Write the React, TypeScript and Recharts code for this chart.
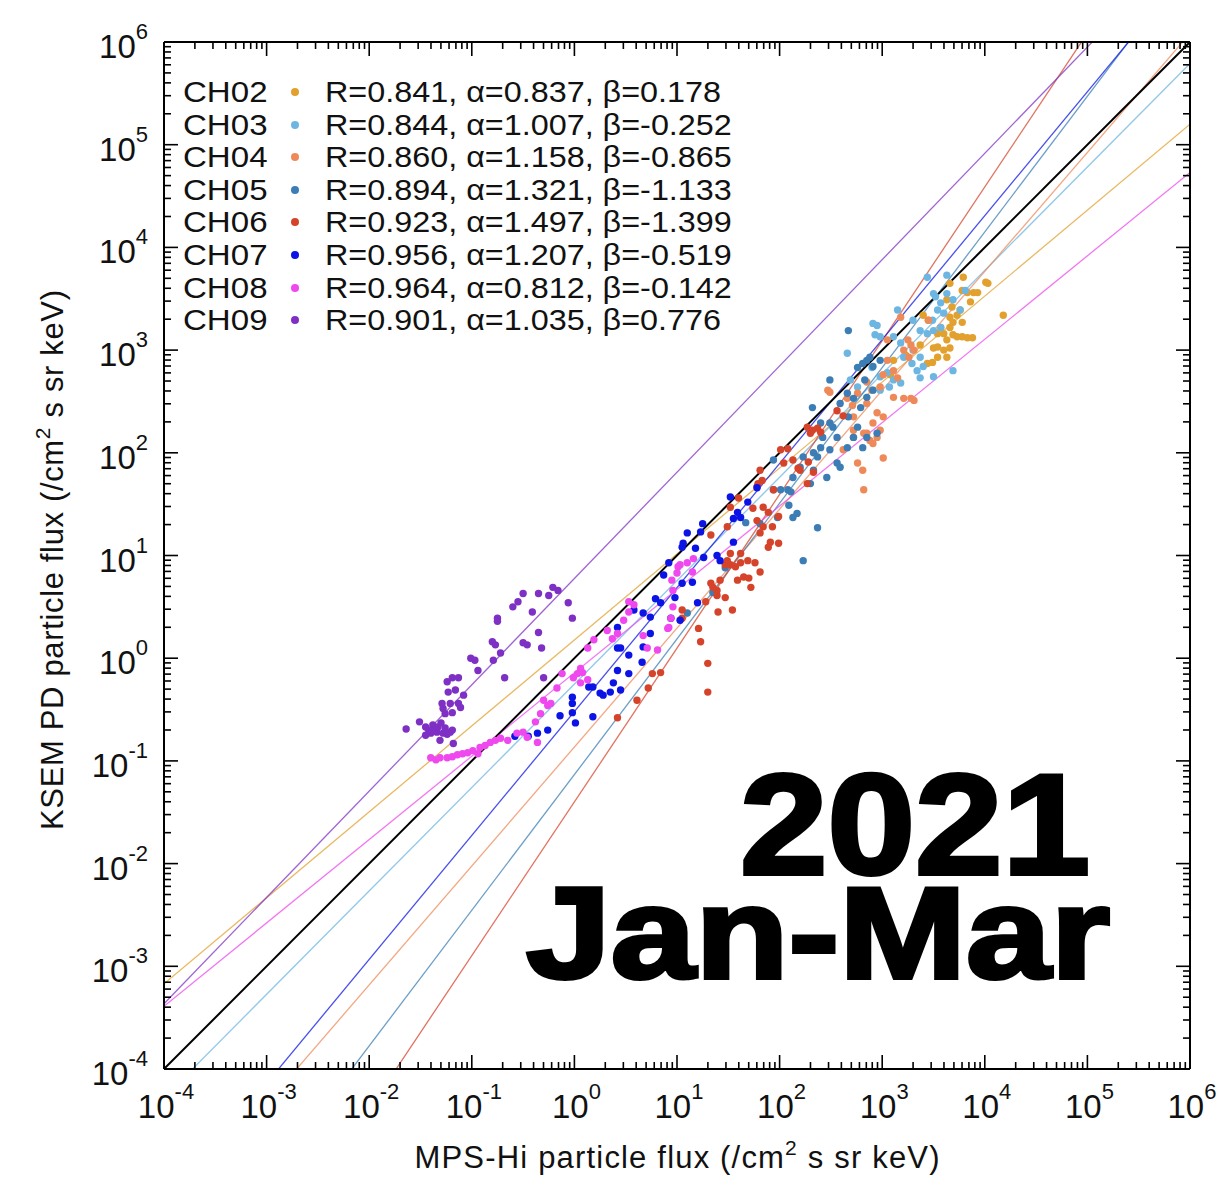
import { ScatterChart, Scatter, XAxis, YAxis, ReferenceLine, Legend } from "recharts";

const CHANNELS = ["CH02", "CH03", "CH04", "CH05", "CH06", "CH07", "CH08", "CH09"];
const COLORS = ["#E2A02E", "#6DB6E2", "#EE8A5A", "#3B7DB4", "#D5442A", "#0B14E4", "#EE48EE", "#7F30C4"];
const R_VALUES = [0.841, 0.844, 0.86, 0.894, 0.923, 0.956, 0.964, 0.901];
const ALPHAS = [0.837, 1.007, 1.158, 1.321, 1.497, 1.207, 0.812, 1.035];
const BETAS = [0.178, -0.252, -0.865, -1.133, -1.399, -0.519, -0.142, 0.776];

// points are [log10 MPS-Hi flux, log10 KSEM PD flux]
const CH02_PTS = [
  [3.08, 2.76], [3.11, 2.9], [3.23, 2.95], [3.37, 3.05], [3.4, 3.34], [3.44, 2.87], [3.45, 3.29], [3.49, 2.88],
  [3.5, 3.02], [3.54, 3.16], [3.54, 3.03], [3.54, 2.93], [3.57, 3.22], [3.6, 3.16], [3.6, 3.0], [3.63, 3.49],
  [3.63, 3.1], [3.63, 2.93], [3.66, 3.65], [3.66, 3.32], [3.66, 3.22], [3.66, 3.02], [3.68, 3.42], [3.69, 3.27],
  [3.69, 3.15], [3.73, 3.34], [3.73, 3.13], [3.76, 3.39], [3.78, 3.58], [3.78, 3.27], [3.78, 3.13], [3.79, 3.71],
  [3.83, 3.56], [3.83, 3.12], [3.86, 3.47], [3.88, 3.12], [3.89, 3.56], [3.93, 3.56], [4.01, 3.66], [4.03, 3.65],
  [4.18, 3.34],
];
const CH03_PTS = [
  [2.66, 2.97], [2.69, 2.71], [2.76, 2.64], [2.9, 2.83], [2.91, 3.26], [2.93, 3.15], [2.95, 3.24], [2.98, 3.13],
  [2.98, 2.74], [2.98, 2.61], [3.05, 2.78], [3.07, 2.64], [3.11, 3.13], [3.11, 2.71], [3.15, 3.39], [3.18, 3.07],
  [3.18, 2.68], [3.21, 2.93], [3.29, 2.87], [3.3, 3.29], [3.3, 3.0], [3.34, 2.8], [3.37, 3.19], [3.37, 2.93],
  [3.37, 2.73], [3.4, 2.84], [3.44, 3.71], [3.44, 3.16], [3.49, 3.29], [3.5, 3.55], [3.5, 3.19], [3.5, 2.74],
  [3.52, 3.52], [3.54, 3.39], [3.57, 3.46], [3.57, 3.22], [3.6, 3.36], [3.63, 3.73], [3.63, 3.55], [3.69, 3.49],
  [3.69, 2.8], [3.76, 3.39], [3.81, 3.58],
];
const CH04_PTS = [
  [2.47, 2.61], [2.49, 2.59], [2.62, 2.03], [2.66, 2.53], [2.71, 2.46], [2.72, 2.35], [2.72, 2.22], [2.72, 2.15],
  [2.76, 2.58], [2.76, 1.9], [2.81, 1.83], [2.82, 2.19], [2.82, 1.64], [2.85, 2.69], [2.85, 2.48], [2.85, 2.19],
  [2.88, 2.12], [2.9, 2.61], [2.91, 2.29], [2.91, 2.09], [2.95, 2.39], [2.95, 2.15], [2.98, 2.64], [2.98, 2.22],
  [3.01, 2.76], [3.01, 2.35], [3.01, 1.95], [3.05, 3.1], [3.05, 2.9], [3.11, 2.8], [3.11, 2.54], [3.15, 2.73],
  [3.18, 3.32], [3.21, 3.0], [3.21, 2.53], [3.25, 3.1], [3.26, 2.93], [3.28, 3.05], [3.28, 2.53], [3.31, 3.0],
  [3.31, 2.51], [3.45, 3.29],
];
const CH05_PTS = [
  [1.1, 0.44], [1.35, 0.64], [1.47, 0.88], [1.67, 1.32], [1.81, 1.31], [1.94, 1.93], [1.94, 1.64], [1.98, 1.37],
  [2.01, 1.64], [2.08, 1.64], [2.09, 1.49], [2.11, 1.62], [2.13, 1.76], [2.13, 1.37], [2.17, 1.41], [2.2, 1.86],
  [2.23, 1.96], [2.23, 0.95], [2.3, 1.7], [2.32, 2.44], [2.33, 2.0], [2.33, 1.83], [2.37, 1.96], [2.37, 1.27],
  [2.4, 2.29], [2.4, 2.05], [2.42, 2.15], [2.46, 1.76], [2.49, 2.71], [2.49, 2.29], [2.49, 2.03], [2.52, 2.25],
  [2.56, 2.15], [2.56, 1.9], [2.59, 2.48], [2.59, 1.86], [2.66, 2.58], [2.66, 2.05], [2.67, 2.35], [2.72, 2.53],
  [2.72, 2.15], [2.76, 2.83], [2.76, 2.25], [2.79, 2.44], [2.81, 2.87], [2.81, 2.05], [2.85, 2.9], [2.85, 2.54],
  [2.85, 2.15], [2.88, 2.93], [2.91, 2.84], [2.91, 2.61], [2.95, 2.19], [2.98, 2.9], [2.83, 2.71], [2.67, 3.19],
];
const CH06_PTS = [
  [0.42, -0.58], [0.61, -0.41], [0.72, -0.29], [0.76, -0.15], [0.84, -0.14], [1.05, 0.47], [1.05, 0.39], [1.21, 0.29],
  [1.23, 0.16], [1.3, -0.05], [1.3, -0.33], [1.28, 0.55], [1.33, 1.2], [1.33, 0.73], [1.35, 0.69], [1.39, 0.66],
  [1.39, 0.61], [1.4, 0.45], [1.42, 0.76], [1.47, 0.91], [1.47, 0.59], [1.49, 1.28], [1.49, 0.95], [1.52, 1.47],
  [1.52, 1.02], [1.52, 0.91], [1.54, 0.47], [1.57, 0.89], [1.59, 0.76], [1.6, 1.56], [1.62, 1.02], [1.62, 0.93],
  [1.65, 0.79], [1.69, 0.95], [1.7, 0.78], [1.72, 0.69], [1.74, 1.46], [1.76, 0.93], [1.78, 1.67], [1.78, 1.34],
  [1.79, 1.7], [1.81, 1.83], [1.81, 1.22], [1.81, 0.84], [1.83, 1.73], [1.84, 1.47], [1.84, 1.28], [1.89, 1.42],
  [1.89, 1.08], [1.91, 1.13], [1.93, 1.28], [1.94, 1.64], [1.99, 1.38], [1.99, 1.12], [2.01, 2.03], [2.04, 1.9],
  [2.08, 2.04], [2.13, 1.93], [2.18, 1.85], [2.2, 1.83], [2.27, 2.25], [2.27, 1.7], [2.28, 1.91], [2.3, 2.19],
  [2.32, 2.22], [2.33, 1.81], [2.37, 2.24], [2.4, 2.2], [2.56, 2.41], [2.62, 2.36],
];
const CH07_PTS = [
  [-0.58, -0.76], [-0.45, -0.76], [-0.36, -0.73], [-0.26, -0.7], [-0.14, -0.56], [-0.02, -0.38], [-0.02, -0.44],
  [-0.02, -0.53], [0.01, -0.63], [0.14, -0.28], [0.18, -0.28], [0.25, -0.34], [0.35, -0.33], [0.38, -0.24],
  [0.18, -0.57], [0.28, -0.36], [0.42, -0.12], [0.42, 0.1], [0.42, 0.3], [0.45, -0.31], [0.45, 0.1], [0.53, 0.03],
  [0.53, -0.15], [0.58, 0.47], [0.66, -0.04], [0.67, 0.44], [0.67, 0.11], [0.74, 0.4], [0.74, 0.24], [0.79, 0.58],
  [0.84, 0.54], [0.87, 0.81], [0.92, 0.93], [0.94, 0.39], [0.98, 0.59], [1.03, 0.37], [1.05, 0.73], [1.05, 1.08],
  [1.06, 1.12], [1.1, 1.22], [1.15, 0.74], [1.18, 1.07], [1.2, 0.54], [1.23, 1.23], [1.25, 1.31], [1.26, 0.98],
  [1.39, 1.0], [1.42, 0.95], [1.52, 1.57], [1.55, 1.36], [1.55, 1.13], [1.59, 1.42], [1.62, 1.37], [1.69, 1.52],
  [1.78, 1.66],
];
const CH08_PTS = [
  [-1.4, -0.97], [-1.35, -0.99], [-1.31, -0.97], [-1.24, -0.97], [-1.19, -0.96], [-1.14, -0.94], [-1.09, -0.93],
  [-1.04, -0.92], [-0.99, -0.9], [-0.94, -0.93], [-0.92, -0.87], [-0.87, -0.85], [-0.82, -0.82], [-0.77, -0.8],
  [-0.72, -0.78], [-0.65, -0.8], [-0.56, -0.73], [-0.5, -0.72], [-0.46, -0.77], [-0.36, -0.82], [-0.38, -0.62],
  [-0.33, -0.54], [-0.26, -0.46], [-0.3, -0.41], [-0.23, -0.44], [-0.17, -0.29], [-0.12, -0.15], [-0.01, -0.19],
  [0.03, -0.15], [0.06, -0.1], [0.08, -0.14], [0.13, -0.21], [0.06, -0.24], [0.13, 0.1], [0.19, 0.18], [0.32, 0.27],
  [0.37, 0.19], [0.42, 0.24], [0.48, 0.37], [0.53, 0.45], [0.58, 0.52], [0.53, 0.55], [0.67, 0.22], [0.71, 0.1],
  [0.81, 0.08], [0.91, 0.29], [0.94, 0.39], [0.96, 0.5], [0.96, 0.66], [1.0, 0.83], [1.03, 0.91], [1.1, 0.93],
  [1.15, 0.84], [1.16, 0.97], [1.01, 0.89], [0.95, 0.76], [0.92, 0.3],
];
const CH09_PTS = [
  [-1.64, -0.69], [-1.51, -0.62], [-1.45, -0.67], [-1.38, -0.65], [-1.33, -0.67], [-1.26, -0.68], [-1.19, -0.7],
  [-1.4, -0.73], [-1.34, -0.72], [-1.28, -0.73], [-1.21, -0.72], [-1.45, -0.75], [-1.31, -0.8], [-1.18, -0.83],
  [-1.36, -0.7], [-1.24, -0.74], [-1.42, -0.7], [-1.3, -0.63], [-1.29, -0.44], [-1.28, -0.49], [-1.21, -0.44],
  [-1.13, -0.44], [-1.26, -0.54], [-1.19, -0.53], [-1.11, -0.48], [-1.08, -0.36], [-1.24, -0.23], [-1.19, -0.19],
  [-1.13, -0.19], [-1.23, -0.33], [-1.16, -0.31], [-1.01, 0.0], [-0.97, -0.02], [-0.94, -0.12], [-0.8, 0.16],
  [-0.77, 0.13], [-0.79, -0.02], [-0.72, 0.05], [-0.68, -0.19], [-0.75, 0.39], [-0.75, 0.36], [-0.6, 0.5],
  [-0.55, 0.55], [-0.5, 0.63], [-0.41, 0.45], [-0.35, 0.63], [-0.25, 0.61], [-0.21, 0.69], [-0.16, 0.66],
  [-0.06, 0.54], [-0.02, 0.39], [-0.35, 0.25], [-0.5, 0.15], [-0.46, 0.13], [-0.32, 0.1], [-0.3, -0.19],
];
const POINTS = [CH02_PTS, CH03_PTS, CH04_PTS, CH05_PTS, CH06_PTS, CH07_PTS, CH08_PTS, CH09_PTS];

const DOMAIN_MIN = 1e-4;
const DOMAIN_MAX = 1e6;
const DECADES = [-4, -3, -2, -1, 0, 1, 2, 3, 4, 5, 6];
const MINOR_STEPS = [2, 3, 4, 5, 6, 7, 8, 9];
const TICKS = DECADES.flatMap((e) => [10 ** e, ...(e < 6 ? MINOR_STEPS.map((m) => m * 10 ** e) : [])]);

const FONT = "'Liberation Sans', Arial, Helvetica, sans-serif";
const MAJOR_LEN = 14;
const MINOR_LEN = 7;

function exponentOf(v: number) {
  return Math.round(Math.log10(v));
}
function isMajor(v: number) {
  const l = Math.log10(v);
  return Math.abs(l - Math.round(l)) < 1e-6;
}

function BottomTick(props: any) {
  const { x, y, payload } = props;
  const major = isMajor(payload.value);
  return (
    <g>
      <line x1={x} x2={x} y1={y} y2={y - (major ? MAJOR_LEN : MINOR_LEN)} stroke="#000" strokeWidth={1.6} />
      {major && (
        <text x={x + 2} y={y + 49} textAnchor="middle" fontSize={33} fontFamily={FONT} fill="#111">
          10
          <tspan dy={-19} fontSize={22}>{exponentOf(payload.value)}</tspan>
        </text>
      )}
    </g>
  );
}

function TopTick(props: any) {
  const { x, y, payload } = props;
  const major = isMajor(payload.value);
  return <line x1={x} x2={x} y1={y} y2={y + (major ? MAJOR_LEN : MINOR_LEN)} stroke="#000" strokeWidth={1.6} />;
}

function LeftTick(props: any) {
  const { x, y, payload } = props;
  const major = isMajor(payload.value);
  return (
    <g>
      <line x1={x} x2={x + (major ? MAJOR_LEN : MINOR_LEN)} y1={y} y2={y} stroke="#000" strokeWidth={1.6} />
      {major && (
        <text x={x - 16} y={y + 16} textAnchor="end" fontSize={33} fontFamily={FONT} fill="#111">
          10
          <tspan dy={-19} fontSize={22}>{exponentOf(payload.value)}</tspan>
        </text>
      )}
    </g>
  );
}

function RightTick(props: any) {
  const { x, y, payload } = props;
  const major = isMajor(payload.value);
  return <line x1={x} x2={x - (major ? MAJOR_LEN : MINOR_LEN)} y1={y} y2={y} stroke="#000" strokeWidth={1.6} />;
}

const stretched = (sx: number) => ({
  position: "absolute" as const,
  display: "inline-block",
  transform: `scaleX(${sx})`,
  transformOrigin: "left center",
});

function LegendBlock() {
  return (
    <div style={{ fontFamily: FONT, fontSize: 29, color: "#111", lineHeight: "32.6px" }}>
      {CHANNELS.map((name, i) => (
        <div key={name} style={{ position: "relative", height: 32.6, whiteSpace: "nowrap" }}>
          <span style={{ ...stretched(1.14), left: 0 }}>{name}</span>
          <span
            style={{
              position: "absolute",
              left: 108,
              top: 12,
              width: 8,
              height: 8,
              borderRadius: 4,
              background: COLORS[i],
            }}
          />
          <span style={{ ...stretched(1.115), left: 142 }}>
            R={R_VALUES[i].toFixed(3)}, α={ALPHAS[i].toFixed(3)}, β={BETAS[i].toFixed(3)}
          </span>
        </div>
      ))}
    </div>
  );
}

function dotShape(color: string) {
  return (props: any) => <circle cx={props.cx} cy={props.cy} r={3.7} fill={color} />;
}

export default function App() {
  const series = POINTS.map((pts) => pts.map(([lx, ly]) => ({ x: 10 ** lx, y: 10 ** ly })));

  return (
    <div style={{ position: "relative", width: 1222, height: 1173, fontFamily: FONT }}>
      <ScatterChart width={1222} height={1173} margin={{ top: 33, right: 39, bottom: 12, left: 0 }}>
        <XAxis
          dataKey="x"
          type="number"
          scale="log"
          domain={[DOMAIN_MIN, DOMAIN_MAX]}
          allowDataOverflow
          ticks={TICKS}
          interval={0}
          height={100}
          tickSize={0}
          tickMargin={0}
          tickLine={false}
          tick={<BottomTick />}
          axisLine={{ stroke: "#000", strokeWidth: 2 }}
        />
        <XAxis
          xAxisId="top"
          orientation="top"
          dataKey="x"
          type="number"
          scale="log"
          domain={[DOMAIN_MIN, DOMAIN_MAX]}
          allowDataOverflow
          ticks={TICKS}
          interval={0}
          height={1}
          tickSize={0}
          tickMargin={0}
          tickLine={false}
          tick={<TopTick />}
          axisLine={{ stroke: "#000", strokeWidth: 2 }}
        />
        <YAxis
          dataKey="y"
          type="number"
          scale="log"
          domain={[DOMAIN_MIN, DOMAIN_MAX]}
          allowDataOverflow
          ticks={TICKS}
          interval={0}
          width={156}
          tickSize={0}
          tickMargin={0}
          tickLine={false}
          tick={<LeftTick />}
          axisLine={{ stroke: "#000", strokeWidth: 2 }}
        />
        <YAxis
          yAxisId="right"
          orientation="right"
          dataKey="y"
          type="number"
          scale="log"
          domain={[DOMAIN_MIN, DOMAIN_MAX]}
          allowDataOverflow
          ticks={TICKS}
          interval={0}
          width={1}
          tickSize={0}
          tickMargin={0}
          tickLine={false}
          tick={<RightTick />}
          axisLine={{ stroke: "#000", strokeWidth: 2 }}
        />
        {/* binds the mirror axes so they get drawn */}
        <Scatter
          xAxisId="top"
          yAxisId="right"
          data={series[0]}
          shape={() => null}
          legendType="none"
          isAnimationActive={false}
        />
        {CHANNELS.map((name, i) => (
          <ReferenceLine
            key={`fit-${name}`}
            segment={[
              { x: DOMAIN_MIN, y: 10 ** (ALPHAS[i] * Math.log10(DOMAIN_MIN) + BETAS[i]) },
              { x: DOMAIN_MAX, y: 10 ** (ALPHAS[i] * Math.log10(DOMAIN_MAX) + BETAS[i]) },
            ]}
            stroke={COLORS[i]}
            strokeOpacity={0.75}
            strokeWidth={1.3}
            ifOverflow="hidden"
          />
        ))}
        <ReferenceLine
          segment={[
            { x: DOMAIN_MIN, y: DOMAIN_MIN },
            { x: DOMAIN_MAX, y: DOMAIN_MAX },
          ]}
          stroke="#000"
          strokeWidth={2}
          ifOverflow="hidden"
        />
        {CHANNELS.map((name, i) => (
          <Scatter
            key={name}
            name={name}
            data={series[i]}
            fill={COLORS[i]}
            shape={dotShape(COLORS[i])}
            isAnimationActive={false}
          />
        ))}
        <Legend
          layout="horizontal"
          verticalAlign="middle"
          align="center"
          wrapperStyle={{ position: "absolute", left: 175, top: 68, width: 640, height: 262 }}
          content={() => <LegendBlock />}
        />
      </ScatterChart>
      <svg
        width={1222}
        height={1173}
        style={{ position: "absolute", left: 0, top: 0, pointerEvents: "none" }}
      >
        <text x={669} y={1160} textAnchor="middle" fontSize={31} fontFamily={FONT} fill="#111" textLength={525}>
          MPS-Hi particle flux (/cm
          <tspan dy={-13} fontSize={21}>2</tspan>
          <tspan dy={13}> s sr keV)</tspan>
        </text>
        <text
          transform="translate(55,552) rotate(-90)"
          textAnchor="middle"
          fontSize={31}
          fontFamily={FONT}
          fill="#111"
          textLength={540}
        >
          KSEM PD particle flux (/cm
          <tspan dy={-13} fontSize={21}>2</tspan>
          <tspan dy={13}> s sr keV)</tspan>
        </text>
        <text fontWeight="bold" fontFamily={FONT} fill="#000" stroke="#000" strokeWidth={4}>
          <tspan
            x={1082}
            y={866}
            textAnchor="end"
            fontSize={142}
            textLength={350}
            lengthAdjust="spacingAndGlyphs"
          >
            2021
          </tspan>
          <tspan x={518} y={970} fontSize={130} textLength={584} lengthAdjust="spacingAndGlyphs">
            Jan-Mar
          </tspan>
        </text>
      </svg>
    </div>
  );
}
